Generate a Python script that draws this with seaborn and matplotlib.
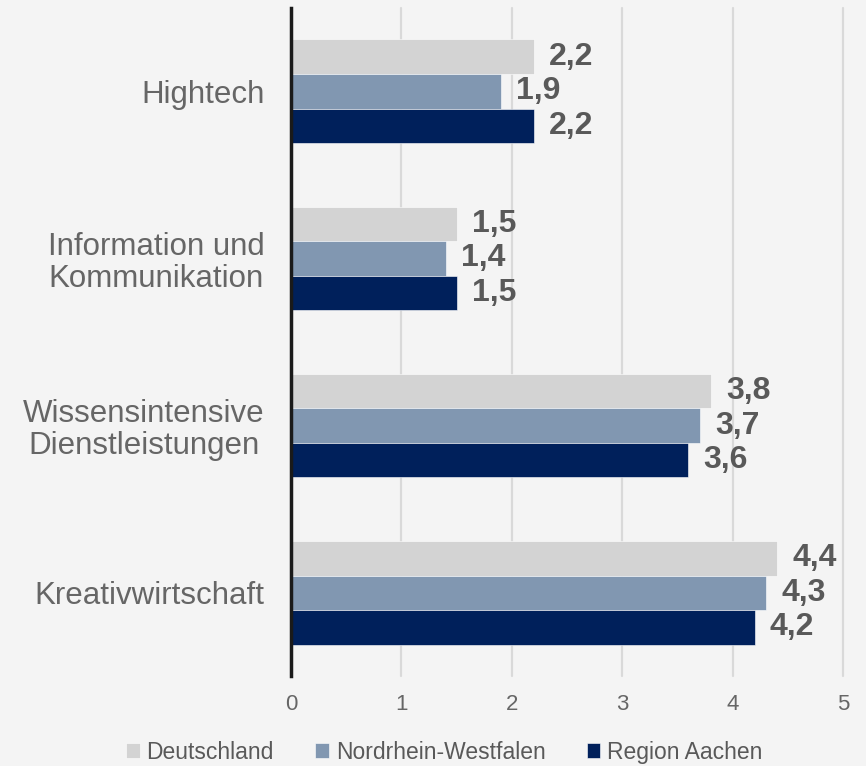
import numpy as np
import pandas as pd
import matplotlib.pyplot as plt
import seaborn as sns

# data
categories = ['Hightech', 'Information und\nKommunikation',
              'Wissensintensive\nDienstleistungen', 'Kreativwirtschaft']
regions = ['Deutschland', 'Nordrhein-Westfalen', 'Region Aachen']
deutschland = [2.2, 1.5, 3.8, 4.4]
nrw = [1.9, 1.4, 3.7, 4.3]
aachen = [2.2, 1.5, 3.6, 4.2]
colors = ['#d3d3d3', '#8197b1', '#00205b']

df = pd.DataFrame({
    'Kategorie': categories * 3,
    'Region': np.repeat(regions, len(categories)),
    'Wert': deutschland + nrw + aachen,
})

sns.set_style('white')
plt.rcParams['font.family'] = ['Liberation Sans', 'DejaVu Sans']
bg = '#f4f4f4'

fig = plt.figure(figsize=(8.66, 7.66), dpi=100, facecolor=bg)
ax = fig.add_axes([0.336, 0.117, 0.6375, 0.873])
ax.set_facecolor(bg)

sns.barplot(data=df, y='Kategorie', x='Wert', hue='Region', orient='h',
            palette=colors, saturation=1, width=0.62, ax=ax,
            edgecolor='white', linewidth=0.4, legend=True)

for cont in ax.containers:
    ax.bar_label(cont, labels=[f'{v:.1f}'.replace('.', ',') for v in cont.datavalues],
                 padding=11, fontsize=23, fontweight='bold', color='#595959')

ax.set_xlim(0, 5.0)
ax.set_xticks([0, 1, 2, 3, 4, 5])
ax.xaxis.grid(True, color='#d9d9d9', linewidth=1.6)
for gl in ax.get_xgridlines():
    gl.set_clip_on(False)
ax.set_axisbelow(True)
ax.set_xlabel('')
ax.set_ylabel('')
ax.tick_params(axis='x', labelsize=16, labelcolor='#666666', length=0, pad=13)
ax.tick_params(axis='y', labelsize=22.5, labelcolor='#666666', length=0, pad=19)
for lbl in ax.get_yticklabels():
    lbl.set_linespacing(1.1)
    lbl.set_multialignment('center')
for s in ['top', 'right', 'bottom']:
    ax.spines[s].set_visible(False)
ax.spines['left'].set_color('#1a1a1a')
ax.spines['left'].set_linewidth(2.5)

ax.legend_.remove()
handles, labels = ax.get_legend_handles_labels()
fig.legend(handles, labels, loc='center', bbox_to_anchor=(0.513, 0.018),
           ncol=3, frameon=False, fontsize=16.5, labelcolor='#595959',
           handlelength=0.6, handleheight=0.6, handletextpad=0.3,
           columnspacing=1.8)

fig.savefig('out.png', dpi=100, facecolor=bg)
